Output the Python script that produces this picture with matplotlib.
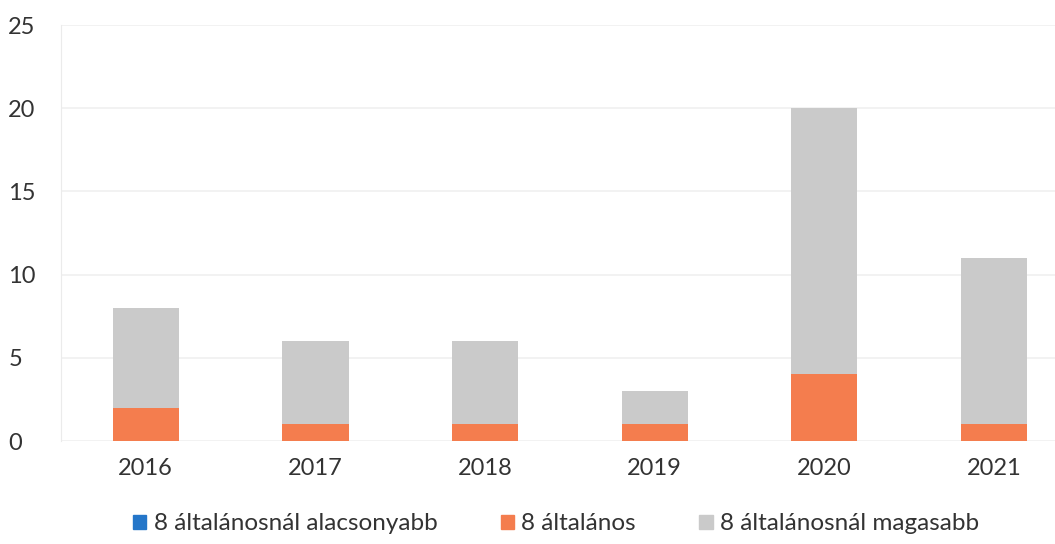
import matplotlib
matplotlib.use("Agg")
import matplotlib.pyplot as plt
from matplotlib.patches import Patch
import numpy as np

years = ["2016", "2017", "2018", "2019", "2020", "2021"]
alacsonyabb = [0, 0, 0, 0, 0, 0]
altalanos = [2, 1, 1, 1, 4, 1]
magasabb = [6, 5, 5, 2, 16, 10]
labels = ["8 általánosnál alacsonyabb", "8 általános", "8 általánosnál magasabb"]
colors = ["#2476C9", "#F47D4E", "#CACACA"]

plt.rcParams['font.family'] = ['Lato', 'DejaVu Sans']

fig = plt.figure(figsize=(10.55, 5.44), dpi=100)
W, H = 1055, 544
ax = fig.add_axes([61 / W, 103 / H, (1055 - 61) / W, (441 - 25) / H])

x = np.arange(len(years))
bw = 0.39
b1 = np.array(alacsonyabb)
b2 = b1 + np.array(altalanos)
ax.bar(x, alacsonyabb, bw, color=colors[0])
ax.bar(x, altalanos, bw, bottom=b1, color=colors[1])
ax.bar(x, magasabb, bw, bottom=b2, color=colors[2])

ax.set_ylim(0, 25)
ax.set_xlim(-0.5, 5.36)
ax.set_yticks([0, 5, 10, 15, 20, 25])
ax.set_xticks(x)
ax.set_xticklabels(years)
ax.yaxis.grid(True, color="#F0F0F0", linewidth=1.2)
ax.set_axisbelow(True)
for s in ["top", "right", "bottom"]:
    ax.spines[s].set_visible(False)
ax.spines["left"].set_color("#EBEBEB")
ax.tick_params(length=0, labelsize=17, labelcolor="#333333")
for t in ax.get_yticklabels():
    t.set_horizontalalignment("left")
ax.tick_params(axis="y", pad=38)
ax.tick_params(axis="x", pad=12)

handles = [Patch(color=c) for c in colors]
fig.legend(handles, labels, loc="center", bbox_to_anchor=(556 / W, 1 - 524 / H),
           ncol=3, frameon=False, fontsize=17.5, labelcolor="#333333",
           handlelength=0.55, handleheight=0.55, handletextpad=0.3, columnspacing=2.6)

fig.savefig("out.png", dpi=100)
